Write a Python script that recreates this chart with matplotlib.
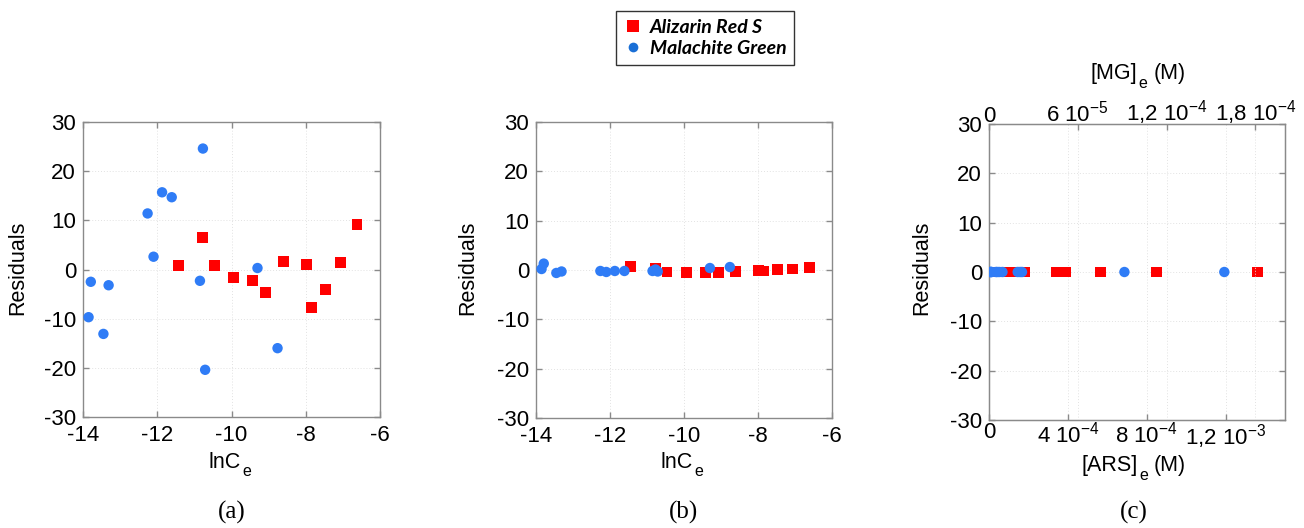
import matplotlib
matplotlib.use("Agg")
import matplotlib.pyplot as plt
from matplotlib.lines import Line2D
from matplotlib.ticker import FixedLocator, FixedFormatter

plt.rcParams["font.family"] = ["Liberation Sans", "DejaVu Sans"]
plt.rcParams["axes.unicode_minus"] = False
plt.rcParams["mathtext.fontset"] = "custom"
plt.rcParams["mathtext.rm"] = "Liberation Sans"
plt.rcParams["mathtext.it"] = "Liberation Sans:italic"
plt.rcParams["mathtext.bf"] = "Liberation Sans:bold"

# ---- data ----
series_names = ["Alizarin Red S", "Malachite Green"]

lnce_ars = [-11.44, -10.78, -10.46, -9.94, -9.43, -9.08, -8.61, -7.99, -7.85, -7.48, -7.07, -6.62]
res_ars_a = [0.9, 6.5, 0.8, -1.7, -2.3, -4.6, 1.7, 1.1, -7.7, -4.0, 1.5, 9.2]
res_ars_b = [0.7, 0.4, -0.4, -0.5, -0.5, -0.5, -0.35, -0.1, -0.2, 0.05, 0.2, 0.5]

lnce_mg = [-13.85, -13.79, -13.45, -13.31, -12.26, -12.10, -11.87, -11.61, -10.85, -10.77, -10.71, -9.30, -8.76]
res_mg_a = [-9.7, -2.5, -13.1, -3.2, 11.4, 2.6, 15.7, 14.7, -2.3, 24.6, -20.4, 0.3, -16.0]
res_mg_b = [0.2, 1.3, -0.6, -0.3, -0.2, -0.4, -0.2, -0.2, -0.2, 0.1, -0.3, 0.4, 0.6]

ce_ars = [1.1e-5, 2.1e-5, 2.9e-5, 4.8e-5, 8.0e-5, 1.14e-4, 1.82e-4, 3.4e-4, 3.9e-4, 5.65e-4, 8.5e-4, 1.36e-3]
res_ars_c = [0.0] * 12
ce_mg = [0.97e-6, 1.02e-6, 1.44e-6, 1.66e-6, 4.7e-6, 5.6e-6, 7.0e-6, 9.1e-6, 1.94e-5, 2.1e-5, 2.23e-5, 9.15e-5, 1.59e-4]
res_mg_c = [0.0] * 13

y_ticks = [-30, -20, -10, 0, 10, 20, 30]
lnc_ticks = [-14, -12, -10, -8, -6]
ars_ticks = [0, 4e-4, 8e-4, 1.2e-3]
ars_labels = ["0", "4 10$^{-4}$", "8 10$^{-4}$", "1,2 10$^{-3}$"]
mg_ticks = [0, 6e-5, 1.2e-4, 1.8e-4]
mg_labels = ["0", "6 10$^{-5}$", "1,2 10$^{-4}$", "1,8 10$^{-4}$"]
panel_tags = ["(a)", "(b)", "(c)"]

# ---- style ----
RED = "#ff0000"
BLUE = "#2f7cf6"
FRAME = "#8a8a8a"
W, H = 1304, 528
TICK_FS = 16
LABEL_FS = 15.5

fig = plt.figure(figsize=(W / 100, H / 100), dpi=100)


def px_axes(left, top, right, bottom):
    return fig.add_axes([left / W, 1 - bottom / H, (right - left) / W, (bottom - top) / H])


def style(ax, top=True, xpad=6):
    for s in ax.spines.values():
        s.set_color(FRAME)
        s.set_linewidth(1.0)
    ax.tick_params(direction="in", length=4, width=1, color=FRAME,
                   labelsize=TICK_FS, pad=5, right=True, top=top)
    ax.tick_params(axis="x", pad=xpad)
    ax.grid(True, linestyle=(0, (1, 2)), color="#e2e2e2", linewidth=0.7)
    ax.set_axisbelow(True)


def scatter_pair(ax, xr, yr, xb, yb):
    ax.scatter(xr, yr, marker="s", s=62, color=RED, edgecolors="none", zorder=3)
    ax.scatter(xb, yb, marker="o", s=56, color=BLUE, edgecolors="none", zorder=4)


boxes = [(83, 122, 380, 417), (536, 122, 832, 418), (989, 124, 1285, 420)]

# panels (a) and (b): residuals vs lnCe
for i, (ya, yb) in enumerate([(res_ars_a, res_mg_a), (res_ars_b, res_mg_b)]):
    ax = px_axes(*boxes[i])
    scatter_pair(ax, lnce_ars, ya, lnce_mg, yb)
    ax.set_xlim(-14, -6)
    ax.set_ylim(-30, 30)
    ax.set_xticks(lnc_ticks)
    ax.set_yticks(y_ticks)
    style(ax)

# panel (c): residuals vs equilibrium concentration, two x scales
axc = px_axes(*boxes[2])
axc.scatter(ce_ars, res_ars_c, marker="s", s=62, color=RED, edgecolors="none", zorder=3)
axc.set_xlim(0, 1.5e-3)
axc.set_ylim(-30, 30)
axc.xaxis.set_major_locator(FixedLocator(ars_ticks))
axc.xaxis.set_major_formatter(FixedFormatter(ars_labels))
axc.set_yticks(y_ticks)
style(axc, top=False, xpad=1.5)

axt = axc.twiny()
axt.scatter(ce_mg, res_mg_c, marker="o", s=56, color=BLUE, edgecolors="none", zorder=4)
axt.set_xlim(0, 2e-4)
axt.xaxis.set_major_locator(FixedLocator(mg_ticks))
axt.xaxis.set_major_formatter(FixedFormatter(mg_labels))
for s in axt.spines.values():
    s.set_color(FRAME)
axt.tick_params(direction="in", length=4, width=1, color=FRAME, labelsize=TICK_FS, pad=-2)
axt.grid(True, axis="x", linestyle=(0, (1, 2)), color="#e2e2e2", linewidth=0.7)


# ---- labels ----
def ftext(x, y, s, **kw):
    return fig.text(x / W, 1 - y / H, s, ha="center", va="center", **kw)


renderer = fig.canvas.get_renderer()


def sub_label(xc, y, base, sub, tail=""):
    # label with a deeply lowered subscript, centred on xc (pixels)
    parts = [fig.text(0, 1 - y / H, base, ha="left", va="center", fontsize=LABEL_FS),
             fig.text(0, 1 - (y + 10) / H, sub, ha="left", va="center", fontsize=11.5)]
    gaps = [1, 0]
    if tail:
        parts.append(fig.text(0, 1 - y / H, tail, ha="left", va="center", fontsize=LABEL_FS))
        gaps = [1, 6, 0]
    widths = [p.get_window_extent(renderer).width for p in parts]
    total = sum(widths) + sum(gaps)
    x = xc - total / 2
    for p, w, g in zip(parts, widths, gaps):
        p.set_x(x / W)
        x += w + g


for lx in (18, 468, 922):
    ftext(lx, 268, "Residuals", rotation=90, fontsize=LABEL_FS)

sub_label(230, 462, "lnC", "e")
sub_label(682, 462, "lnC", "e")
sub_label(1134, 466, "[ARS]", "e", "(M)")
sub_label(1138, 74, "[MG]", "e", "(M)")

for tx, tag in zip((232, 684, 1134), panel_tags):
    ftext(tx, 512, tag, fontsize=18, family=["Liberation Serif", "DejaVu Serif"])

# shared legend
handles = [
    Line2D([], [], marker="s", linestyle="none", markersize=8.5, color=RED, markeredgewidth=0),
    Line2D([], [], marker="o", linestyle="none", markersize=7, color="#1a6fd6", markeredgewidth=0),
]
leg = fig.legend(handles, series_names, loc="center", bbox_to_anchor=(705 / W, 1 - 38 / H),
                 frameon=True, fancybox=False, edgecolor="#333333", framealpha=1,
                 handletextpad=0.35, handlelength=1.0, borderpad=0.4, labelspacing=0.22,
                 borderaxespad=0,
                 prop={"family": ["Lato", "DejaVu Sans"], "style": "italic",
                       "weight": "bold", "size": 14})
leg.get_frame().set_linewidth(1.0)

fig.savefig("out.png", dpi=100)
